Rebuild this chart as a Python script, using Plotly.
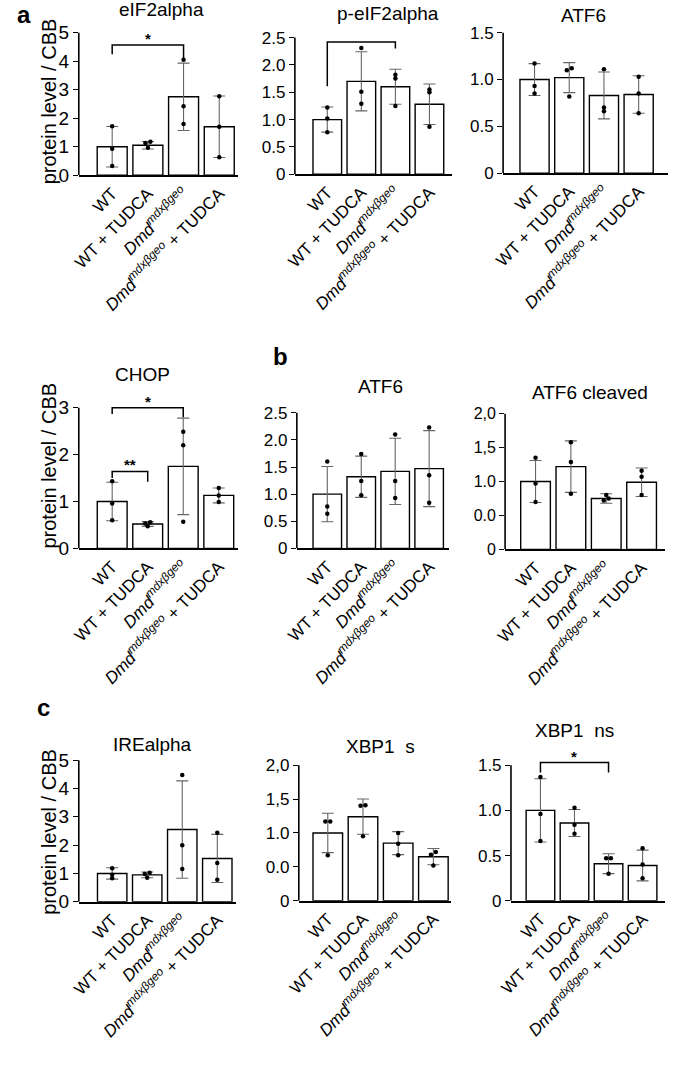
import plotly.graph_objects as go

W, H = 675, 1083

groups = ["WT", "WT + TUDCA",
          "<i>Dmd</i><sup><i>mdxβgeo</i></sup>",
          "<i>Dmd</i><sup><i>mdxβgeo</i></sup> + TUDCA"]

titles = ["eIF2alpha", "p-eIF2alpha", "ATF6", "CHOP", "ATF6", "ATF6 cleaved",
          "IREalpha", "XBP1  s", "XBP1  ns"]

eif2_mean = [1.0, 1.05, 2.75, 1.70]
eif2_sd = [0.71, 0.13, 1.18, 1.08]
eif2_pts = [[1.72, 0.93, 0.32], [1.17, 1.13, 0.96], [4.05, 2.42, 1.80], [2.77, 1.70, 0.63]]

peif2_mean = [1.0, 1.70, 1.60, 1.28]
peif2_sd = [0.23, 0.54, 0.32, 0.37]
peif2_pts = [[1.22, 1.02, 0.77], [2.31, 1.51, 1.29], [1.82, 1.75, 1.25], [1.55, 1.50, 0.87]]

atf6a_mean = [1.0, 1.02, 0.83, 0.84]
atf6a_sd = [0.17, 0.16, 0.25, 0.20]
atf6a_pts = [[1.17, 0.93, 0.85], [1.12, 1.10, 0.82], [1.11, 0.70, 0.66], [1.03, 0.85, 0.64]]

chop_mean = [1.0, 0.52, 1.75, 1.13]
chop_sd = [0.41, 0.05, 1.03, 0.16]
chop_pts = [[1.43, 0.96, 0.60], [0.56, 0.53, 0.47], [2.49, 2.20, 0.57], [1.29, 1.13, 0.99]]

atf6b_mean = [1.0, 1.32, 1.42, 1.47]
atf6b_sd = [0.51, 0.38, 0.61, 0.70]
atf6b_pts = [[1.60, 0.77, 0.64], [1.74, 1.24, 0.98], [2.10, 1.24, 0.93], [2.23, 1.35, 0.84]]

atf6c_mean = [1.0, 1.22, 0.75, 0.99]
atf6c_sd = [0.31, 0.38, 0.07, 0.21]
atf6c_pts = [[1.35, 0.97, 0.70], [1.58, 1.29, 0.82], [0.80, 0.75, 0.72], [1.16, 1.07, 0.80]]

ire_mean = [1.0, 0.95, 2.55, 1.53]
ire_sd = [0.20, 0.10, 1.72, 0.85]
ire_pts = [[1.18, 0.95, 0.83], [1.02, 0.98, 0.85], [4.48, 2.00, 1.16], [2.44, 1.37, 0.78]]

xbps_mean = [1.0, 1.24, 0.85, 0.65]
xbps_sd = [0.29, 0.26, 0.17, 0.12]
xbps_pts = [[1.17, 1.17, 0.67], [1.41, 1.40, 0.95], [1.00, 0.84, 0.67], [0.72, 0.68, 0.52]]

xbpns_mean = [1.0, 0.86, 0.41, 0.39]
xbpns_sd = [0.35, 0.15, 0.11, 0.17]
xbpns_pts = [[1.37, 0.96, 0.66], [1.03, 0.84, 0.74], [0.47, 0.47, 0.30], [0.58, 0.40, 0.25]]

ticks_1to5 = ([0, 1, 2, 3, 4, 5], ["0", "1", "2", "3", "4", "5"])
ticks_25 = ([0, 0.5, 1, 1.5, 2, 2.5], ["0", "0.5", "1.0", "1.5", "2.0", "2.5"])
ticks_15 = ([0, 0.5, 1, 1.5], ["0", "0.5", "1.0", "1.5"])
ticks_3 = ([0, 1, 2, 3], ["0", "1", "2", "3"])
ticks_20c = ([0, 0.5, 1, 1.5, 2], ["0", "0.0", "1.0", "1,5", "2,0"])

data = [
    (eif2_mean, eif2_sd, eif2_pts, ticks_1to5),
    (peif2_mean, peif2_sd, peif2_pts, ticks_25),
    (atf6a_mean, atf6a_sd, atf6a_pts, ticks_15),
    (chop_mean, chop_sd, chop_pts, ticks_3),
    (atf6b_mean, atf6b_sd, atf6b_pts, ticks_25),
    (atf6c_mean, atf6c_sd, atf6c_pts, ticks_20c),
    (ire_mean, ire_sd, ire_pts, ticks_1to5),
    (xbps_mean, xbps_sd, xbps_pts, ticks_20c),
    (xbpns_mean, xbpns_sd, xbpns_pts, ticks_15),
]

# layout in pixels: axis x, first bar centre, last bar centre, x end, y of zero, y of top tick
geom = [
    (68, 102, 211, 230, 177, 33),
    (288, 321, 425, 448, 176, 38),
    (500, 532, 638, 668, 175, 33),
    (68, 102, 210.5, 230, 554, 412),
    (290, 321, 424.7, 445, 554, 417),
    (502, 533, 641, 665, 555, 418),
    (68, 102, 209, 228, 911, 768),
    (292, 321.5, 429, 447, 910, 773),
    (508, 538, 642, 665, 910, 773),
]
tick_font = [19, 17, 17, 19, 17, 16, 19, 17, 17]
title_pos = [(152, 10), (383, 14), (582, 16), (133, 378), (375, 390), (588, 397),
             (143, 752), (375, 754), (573, 738)]

FONT = "Liberation Sans, Arial, sans-serif"
K = 1.18

fig = go.Figure()
layout = dict(width=W, height=H, margin=dict(l=0, r=0, t=0, b=0),
              paper_bgcolor="white", plot_bgcolor="white", showlegend=False,
              font=dict(family=FONT, color="black"))
shapes, annotations = [], []

for i, ((mean, sd, pts, (tv, tt)), g) in enumerate(zip(data, geom)):
    ax, c0, c3, xend, y0, ytop = g
    s = (c3 - c0) / 3
    xr = [(ax - c0) / s, 3 + (xend - c3) / s]
    T = tv[-1]
    dom_top = y0 - (y0 - ytop) * K
    xa = "x" if i == 0 else f"x{i+1}"
    ya = "y" if i == 0 else f"y{i+1}"
    xk = "xaxis" if i == 0 else f"xaxis{i+1}"
    yk = "yaxis" if i == 0 else f"yaxis{i+1}"
    pos = list(range(len(groups)))
    fig.add_trace(go.Bar(x=pos, y=mean, width=0.84, xaxis=xa, yaxis=ya,
                         marker=dict(color="white", line=dict(color="black", width=1.4)),
                         error_y=dict(type="data", array=sd, visible=True,
                                      color="#666666", thickness=1.1, width=6)))
    # dots, nudged sideways when they nearly coincide
    dx, dy = [], []
    thr = T * 0.02
    for p, vals in zip(pos, pts):
        sv = sorted(vals)
        offs = [0.0] * len(sv)
        for j in range(len(sv) - 1):
            if sv[j + 1] - sv[j] < thr:
                offs[j] = -0.07
                offs[j + 1] = 0.07
        for v, o in zip(sv, offs):
            dx.append(p + o)
            dy.append(v)
    fig.add_trace(go.Scatter(x=dx, y=dy, mode="markers", xaxis=xa, yaxis=ya,
                             marker=dict(color="black", size=4.5), cliponaxis=False))
    layout[xk] = dict(domain=[ax / W, xend / W], range=xr, anchor=ya,
                      tickvals=pos, ticktext=groups, tickangle=-46,
                      showline=True, linecolor="black", linewidth=1.6,
                      ticks="", showgrid=False, zeroline=False,
                      tickfont=dict(size=17, family=FONT, color="black"))
    layout[yk] = dict(domain=[1 - y0 / H, 1 - dom_top / H], range=[0, T * K],
                      anchor=xa, tickvals=tv, ticktext=tt, ticks="outside",
                      ticklen=5, tickwidth=1.3, tickcolor="black",
                      showline=False, showgrid=False, zeroline=False,
                      tickfont=dict(size=tick_font[i], family=FONT, color="black"))
    shapes.append(dict(type="line", xref=f"{xa} domain", yref=ya, x0=0, x1=0,
                       y0=0, y1=T, line=dict(color="black", width=1.6)))
    tx, ty = title_pos[i]
    annotations.append(dict(text=titles[i], xref="paper", yref="paper", x=tx / W,
                            y=1 - ty / H, xanchor="center", yanchor="middle",
                            showarrow=False, font=dict(size=19, family=FONT)))

# significance brackets: (panel, x left, x right, y bar, y left end, y right end, label, label y)
brackets = [
    (0, 0, 2, 4.57, 4.24, 4.06, "*", 4.80),
    (1, 0, 2, 2.42, 1.61, 2.30, "", None),
    (3, 0, 2, 3.00, 2.87, 2.80, "*", 3.14),
    (3, 0, 1, 1.64, 1.50, 1.42, "**", 1.80),
    (8, 0, 2, 1.53, 1.42, 1.42, "*", 1.60),
]
for (pi, xl, xr_, yb, yl, yr, lab, ly) in brackets:
    xa = "x" if pi == 0 else f"x{pi+1}"
    ya = "y" if pi == 0 else f"y{pi+1}"
    fig.add_trace(go.Scatter(x=[xl, xl, xr_, xr_], y=[yl, yb, yb, yr], mode="lines",
                             xaxis=xa, yaxis=ya, line=dict(color="black", width=1.5)))
    if lab:
        annotations.append(dict(text=f"<b>{lab}</b>", xref=xa, yref=ya,
                                x=(xl + xr_) / 2, y=ly, showarrow=False,
                                yanchor="middle", borderpad=0,
                                font=dict(size=15, family=FONT)))

# y titles
for cy in [102, 470, 840]:
    annotations.append(dict(text="protein level / CBB", xref="paper", yref="paper",
                            x=38 / W, y=1 - cy / H, textangle=-90, showarrow=False,
                            xanchor="center", yanchor="middle",
                            font=dict(size=20, family=FONT)))
# panel letters
for lt, px, py in [("a", 12, 15), ("b", 273, 360), ("c", 32, 715)]:
    annotations.append(dict(text=f"<b>{lt}</b>", xref="paper", yref="paper",
                            x=px / W, y=1 - py / H, showarrow=False,
                            xanchor="center", yanchor="middle",
                            font=dict(size=24, family=FONT)))

layout["shapes"] = shapes
layout["annotations"] = annotations
fig.update_layout(**layout)
fig.write_html("out.html")
